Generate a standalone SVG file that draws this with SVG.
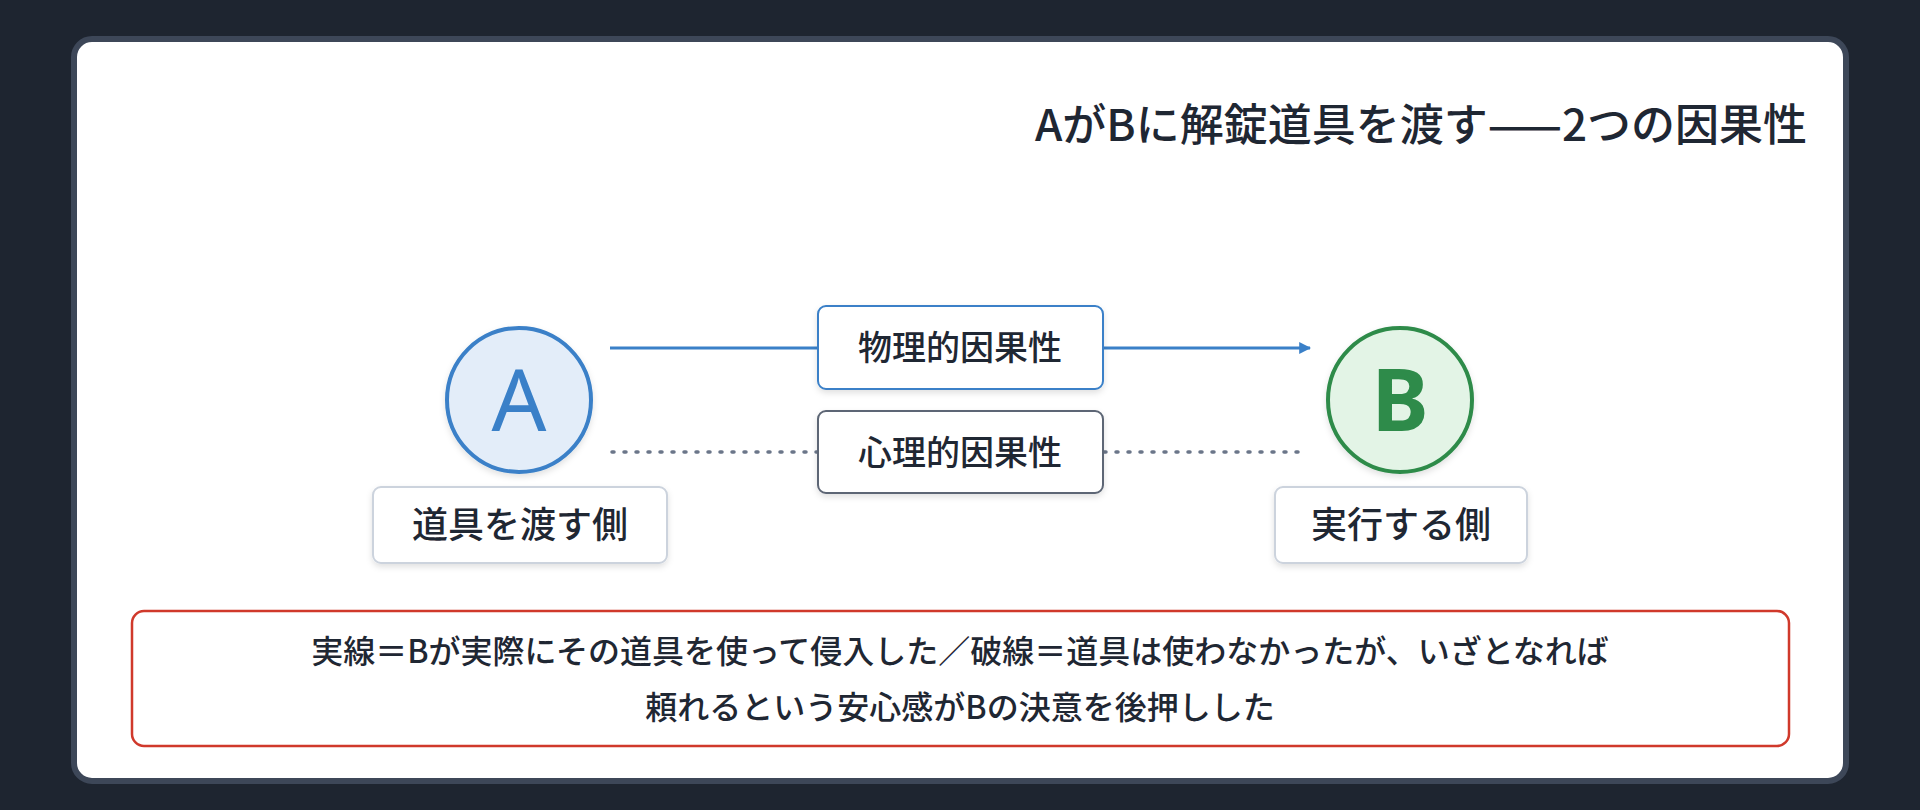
<svg xmlns="http://www.w3.org/2000/svg" width="1920" height="810" viewBox="0 0 1920 810">
<defs>
<style>
text{font-family:"Noto Sans CJK JP","Noto Sans",sans-serif;fill:#1f2733}
.lbl{font-size:36px;text-anchor:middle;font-weight:500}
.box{fill:#fff;stroke:#ccd3dd;stroke-width:2}
</style>
<marker id="ar" viewBox="0 0 10 10" refX="9" refY="5" markerWidth="4" markerHeight="4" orient="auto"><path d="M0,0L10,5L0,10z" fill="#3a80c8"/></marker>
<filter id="sh" x="-10%" y="-10%" width="120%" height="140%"><feDropShadow dx="0" dy="3" stdDeviation="3" flood-opacity="0.12"/></filter>
</defs>
<rect width="1920" height="810" fill="#1e2530"/>
<rect x="74" y="39" width="1772" height="742" rx="18" fill="#fff" stroke="#3d4758" stroke-width="6"/>
<text x="1807" y="141" font-size="44" text-anchor="end" font-weight="500">AがBに解錠道具を渡す——2つの因果性</text>
<g id="connectors">
<line x1="610" y1="348" x2="1310" y2="348" stroke="#3a80c8" stroke-width="3" marker-end="url(#ar)"/>
<line x1="612" y1="452" x2="1305" y2="452" stroke="#6b7689" stroke-width="3.5" stroke-dasharray="2 10" stroke-linecap="round"/>
</g>
<g id="edge-physical">
<rect x="818" y="306" width="285" height="83" rx="8" fill="#fff" stroke="#3a80c8" stroke-width="2" filter="url(#sh)"/>
<text x="960" y="360" class="lbl" font-size="34" style="font-size:34px">物理的因果性</text>
</g>
<g id="edge-psych">
<rect x="818" y="411" width="285" height="82" rx="8" fill="#fff" stroke="#5d6675" stroke-width="2" filter="url(#sh)"/>
<text x="960" y="465" class="lbl" style="font-size:34px">心理的因果性</text>
</g>
<g id="nodeA">
<circle cx="519" cy="400" r="72" fill="#e3edf9" stroke="#3a80c8" stroke-width="4" filter="url(#sh)"/>
<text x="519" y="431" font-size="86" text-anchor="middle" style="fill:#3a80c8;font-family:'Noto Sans',sans-serif">A</text>
</g>
<g id="nodeB">
<circle cx="1400" cy="400" r="72" fill="#e3f4e6" stroke="#2e8b4a" stroke-width="4" filter="url(#sh)"/>
<text x="1400" y="431" font-size="86" text-anchor="middle" font-weight="bold" style="fill:#2e8b4a;font-family:'Noto Sans',sans-serif">B</text>
</g>
<g id="labelA">
<rect x="373" y="487" width="294" height="76" rx="8" class="box" filter="url(#sh)"/>
<text x="520" y="538" class="lbl">道具を渡す側</text>
</g>
<g id="labelB">
<rect x="1275" y="487" width="252" height="76" rx="8" class="box" filter="url(#sh)"/>
<text x="1401" y="538" class="lbl">実行する側</text>
</g>
<g id="note">
<rect x="132" y="611" width="1657" height="135" rx="12" fill="#fff" stroke="#d0392b" stroke-width="2.5"/>
<text x="960" y="663" font-size="32" text-anchor="middle" font-weight="500">実線＝Bが実際にその道具を使って侵入した／破線＝道具は使わなかったが、いざとなれば</text>
<text x="960" y="719" font-size="32" text-anchor="middle" font-weight="500">頼れるという安心感がBの決意を後押しした</text>
</g>
</svg>
